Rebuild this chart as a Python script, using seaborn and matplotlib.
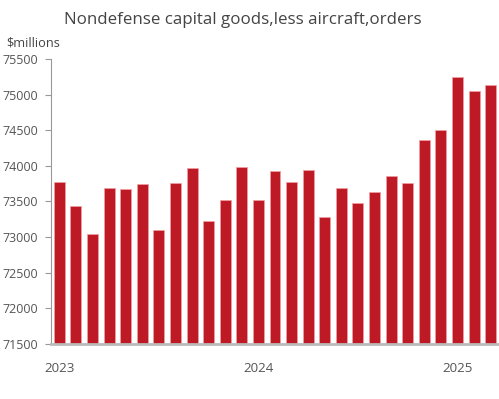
import seaborn as sns
import matplotlib.pyplot as plt
import pandas as pd

# monthly orders, Jan 2023 .. Mar 2025 ($ millions)
months = pd.date_range("2023-01-01", "2025-03-01", freq="MS").strftime("%Y-%m").tolist()
orders = [73780, 73430, 73040, 73690, 73670, 73740, 73095, 73765, 73970, 73220,
          73520, 73990, 73520, 73930, 73780, 73940, 73285, 73695, 73485, 73640,
          73860, 73765, 74365, 74505, 75250, 75055, 75130]
year_labels = ["2023", "2024", "2025"]

sns.set_style("white")
plt.rcParams['font.family'] = ['Open Sans', 'DejaVu Sans']

df = pd.DataFrame({"month": months, "orders": orders})

fig = plt.figure(figsize=(4.99, 3.99), dpi=100)
ax = fig.add_axes([51 / 499, 1 - 344 / 399, 1 - 51 / 499, (344 - 59) / 399])

sns.barplot(data=df, x="month", y="orders", order=months, color="#BE1A25",
            saturation=1, width=0.66, edgecolor="#F2A0A5", linewidth=0.5, ax=ax)

ax.set_ylim(71500, 75500)
ax.set_xlim(-0.5, len(months) - 0.5)
ax.set_yticks(range(71500, 75501, 500))
ax.set_xlabel("")
ax.set_ylabel("")

# year boundaries get the tick marks, labels sit under the January bars
jan = [i for i, m in enumerate(months) if m.endswith("-01")]
ax.set_xticks([i - 0.5 for i in jan])
ax.set_xticklabels([])
ax.set_xticks(jan, minor=True)
ax.set_xticklabels(year_labels, minor=True)
ax.tick_params(axis="x", which="major", length=4, width=0.8, color="#999999", direction="out")
ax.tick_params(axis="x", which="minor", length=0, pad=13, labelsize=9.6, labelcolor="#555555")
ax.tick_params(axis="y", length=4, width=0.8, color="#999999", pad=5.5,
               labelsize=9, labelcolor="#555555", left=True)

for side in ["top", "right"]:
    ax.spines[side].set_visible(False)
ax.spines["left"].set_color("#999999")
ax.spines["left"].set_linewidth(0.8)
ax.spines["bottom"].set_color("#BBBBBB")
ax.spines["bottom"].set_linewidth(2)

fig.text(243 / 499, 1 - 20 / 399, "Nondefense capital goods,less aircraft,orders",
         ha="center", va="center", fontsize=12.2, color="#444444")
fig.text(6 / 499, 1 - 43 / 399, "$millions", ha="left", va="center",
         fontsize=9.2, color="#444444")

fig.savefig("out.png", dpi=100)
